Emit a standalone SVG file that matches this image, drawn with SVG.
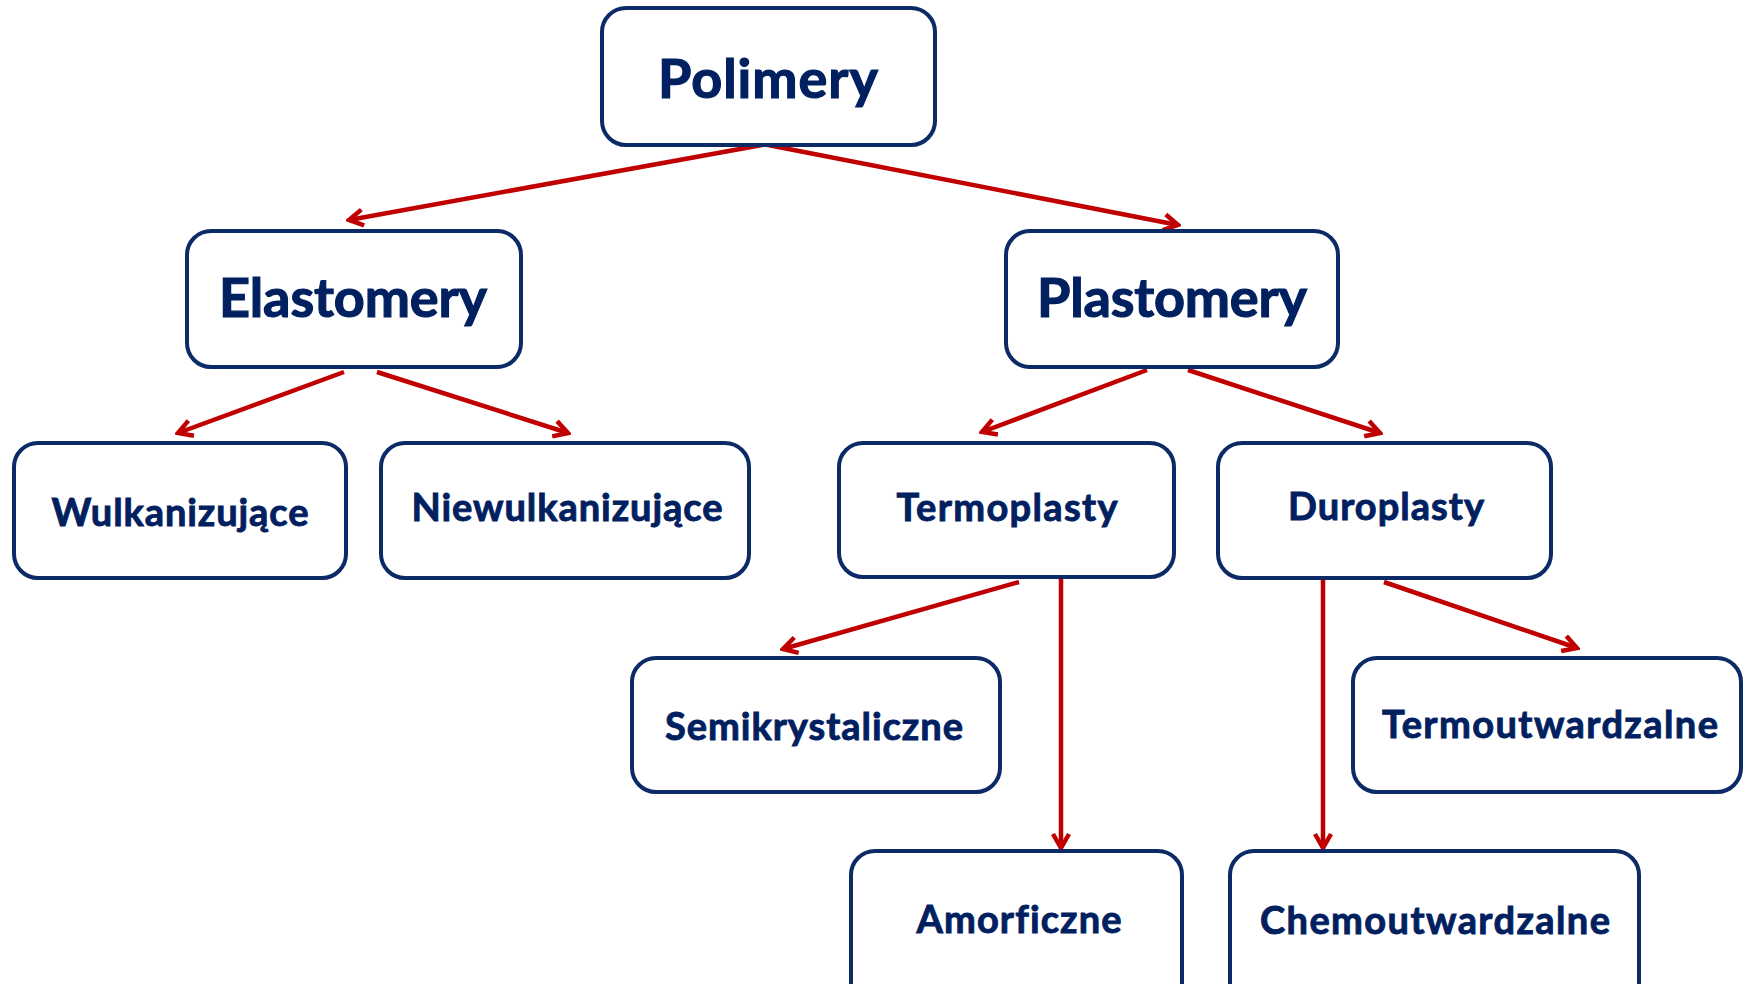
<svg xmlns="http://www.w3.org/2000/svg" width="1746" height="984" viewBox="0 0 1746 984">
<style>
.box{fill:#ffffff;stroke:#0B2A66;stroke-width:4}
.big{font-family:Lato,"Noto Sans","Liberation Sans",sans-serif;font-weight:bold;font-size:54px;fill:#002060;stroke:#002060;stroke-width:1.2;font-variant-ligatures:none}
.sm{font-family:Lato,"Noto Sans","Liberation Sans",sans-serif;font-weight:bold;font-size:38px;fill:#002060;stroke:#002060;stroke-width:0.9;font-variant-ligatures:none}
.con{stroke:#C00000;stroke-width:4.5;fill:none;marker-end:url(#ah)}
</style>
<defs>
<marker id="ah" viewBox="0 0 20 20" refX="17" refY="10" markerWidth="20" markerHeight="20" markerUnits="userSpaceOnUse" orient="auto">
<path d="M3,2 L17,10 L3,18" fill="none" stroke="#C00000" stroke-width="4.5"/>
</marker>
</defs>
<rect width="1746" height="984" fill="#ffffff"/>
<g id="connectors">
<line class="con" x1="762" y1="145" x2="349" y2="220"/>
<line class="con" x1="768" y1="145" x2="1178" y2="225"/>
<line class="con" x1="344" y1="372" x2="178" y2="433"/>
<line class="con" x1="377" y1="372" x2="568" y2="433"/>
<line class="con" x1="1147" y1="370" x2="982" y2="432"/>
<line class="con" x1="1188" y1="370" x2="1380" y2="433"/>
<line class="con" x1="1019" y1="582" x2="783" y2="649"/>
<line class="con" x1="1061" y1="578" x2="1061" y2="848"/>
<line class="con" x1="1323" y1="579" x2="1323" y2="848"/>
<line class="con" x1="1384" y1="582" x2="1577" y2="648"/>
</g>
<g id="polimery">
<rect class="box" x="602" y="8" width="333" height="137" rx="24"/>
<text class="big" x="768" y="98" text-anchor="middle" textLength="220">Polimery</text>
</g>
<g id="elastomery">
<rect class="box" x="187" y="231" width="334" height="136" rx="24"/>
<text class="big" x="353" y="317" text-anchor="middle" textLength="268">Elastomery</text>
</g>
<g id="plastomery">
<rect class="box" x="1006" y="231" width="332" height="136" rx="24"/>
<text class="big" x="1172" y="317" text-anchor="middle" textLength="270">Plastomery</text>
</g>
<g id="wulkanizujace">
<rect class="box" x="14" y="443" width="332" height="135" rx="24"/>
<text class="sm" x="180" y="526" text-anchor="middle" textLength="257">Wulkanizujące</text>
</g>
<g id="niewulkanizujace">
<rect class="box" x="381" y="443" width="368" height="135" rx="24"/>
<text class="sm" x="567" y="521" text-anchor="middle" textLength="311">Niewulkanizujące</text>
</g>
<g id="termoplasty">
<rect class="box" x="839" y="443" width="335" height="134" rx="24"/>
<text class="sm" x="1007" y="521" text-anchor="middle" textLength="221">Termoplasty</text>
</g>
<g id="duroplasty">
<rect class="box" x="1218" y="443" width="333" height="135" rx="24"/>
<text class="sm" x="1386" y="520" text-anchor="middle" textLength="196">Duroplasty</text>
</g>
<g id="semikrystaliczne">
<rect class="box" x="632" y="658" width="368" height="134" rx="24"/>
<text class="sm" x="814" y="740" text-anchor="middle" textLength="298">Semikrystaliczne</text>
</g>
<g id="termoutwardzalne">
<rect class="box" x="1353" y="658" width="388" height="134" rx="24"/>
<text class="sm" x="1550" y="738" text-anchor="middle" textLength="336">Termoutwardzalne</text>
</g>
<g id="amorficzne">
<rect class="box" x="851" y="851" width="331" height="160" rx="24"/>
<text class="sm" x="1019" y="933" text-anchor="middle" textLength="205">Amorficzne</text>
</g>
<g id="chemoutwardzalne">
<rect class="box" x="1230" y="851" width="409" height="160" rx="24"/>
<text class="sm" x="1435" y="934" text-anchor="middle" textLength="350">Chemoutwardzalne</text>
</g>
</svg>
